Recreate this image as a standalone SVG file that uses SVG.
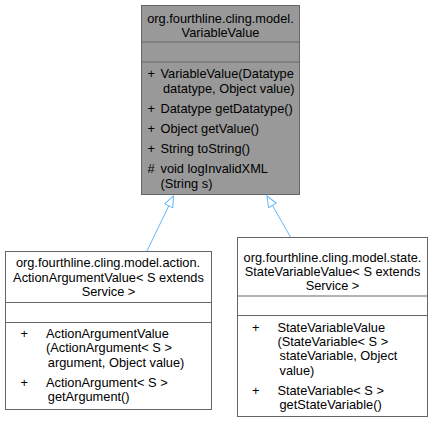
<svg xmlns="http://www.w3.org/2000/svg" width="434" height="423" viewBox="0 0 434 423">
<defs>
<style>
text{font-family:"Liberation Sans",Arial,Helvetica,sans-serif;font-size:12.8px;fill:#000}
.c{text-anchor:middle}
.box{stroke:#666666;stroke-width:1}
.g{fill:#999999}
.w{fill:#ffffff}
.edge{stroke:#63b8ff;stroke-width:1;fill:none;marker-end:url(#tri)}
</style>
<marker id="tri" markerUnits="userSpaceOnUse" markerWidth="13" markerHeight="11" refX="11.5" refY="5" orient="auto">
<path d="M0.5,0.5 L11.5,5 L0.5,9.5 Z" fill="#ffffff" stroke="#63b8ff" stroke-width="1"/>
</marker>
</defs>
<rect width="434" height="423" fill="#ffffff"/>
<g id="connectors">
<line class="edge" x1="147" y1="251" x2="173.5" y2="196"/>
<line class="edge" x1="290.5" y1="237" x2="267" y2="196"/>
</g>
<g id="VariableValue">
<rect class="box g" x="141.5" y="5.5" width="158" height="189"/>
<line class="box" x1="141.5" y1="42" x2="299.5" y2="42"/>
<line class="box" x1="141.5" y1="62" x2="299.5" y2="62"/>
<text class="c" x="220.5" y="23.3">org.fourthline.cling.model.</text>
<text class="c" x="220.5" y="37.3">VariableValue</text>
<text x="147.5" y="78.3">+</text><text x="160.5" y="78.3">VariableValue(Datatype</text>
<text x="163" y="92.7">datatype, Object value)</text>
<text x="147.5" y="113.3">+</text><text x="160.5" y="113.3">Datatype getDatatype()</text>
<text x="147.5" y="133.3">+</text><text x="160.5" y="133.3">Object getValue()</text>
<text x="147.5" y="152.7">+</text><text x="160.5" y="152.7">String toString()</text>
<text x="147.5" y="173.3">#</text><text x="160.5" y="173.3">void logInvalidXML</text>
<text x="160.5" y="187.7">(String s)</text>
</g>
<g id="ActionArgumentValue">
<rect class="box w" x="5.5" y="251.5" width="206" height="158"/>
<line class="box" x1="5.5" y1="302.5" x2="211.5" y2="302.5"/>
<line class="box" x1="5.5" y1="322.5" x2="211.5" y2="322.5"/>
<text class="c" x="108" y="267.3">org.fourthline.cling.model.action.</text>
<text class="c" x="108.5" y="281.7">ActionArgumentValue&lt; S extends</text>
<text class="c" x="108.5" y="295.7">Service &gt;</text>
<text x="20.5" y="338.3">+</text><text x="46" y="338.3">ActionArgumentValue</text>
<text x="46" y="352.3">(ActionArgument&lt; S &gt;</text>
<text x="47.8" y="366.7">argument, Object value)</text>
<text x="20.5" y="386.7">+</text><text x="46" y="386.7">ActionArgument&lt; S &gt;</text>
<text x="47.8" y="400.7">getArgument()</text>
</g>
<g id="StateVariableValue">
<rect class="box w" x="237.5" y="237.5" width="190" height="179"/>
<line class="box" x1="237.5" y1="296" x2="427.5" y2="296"/>
<line class="box" x1="237.5" y1="315.5" x2="427.5" y2="315.5"/>
<text class="c" x="332.5" y="261.7">org.fourthline.cling.model.state.</text>
<text class="c" x="332.5" y="276">StateVariableValue&lt; S extends</text>
<text class="c" x="332.5" y="290.3">Service &gt;</text>
<text x="252" y="331.5">+</text><text x="277.4" y="331.5">StateVariableValue</text>
<text x="277.4" y="346">(StateVariable&lt; S &gt;</text>
<text x="279.5" y="360.3">stateVariable, Object</text>
<text x="279.5" y="374.5">value)</text>
<text x="252" y="395">+</text><text x="277.4" y="395">StateVariable&lt; S &gt;</text>
<text x="279.5" y="409">getStateVariable()</text>
</g>
</svg>
